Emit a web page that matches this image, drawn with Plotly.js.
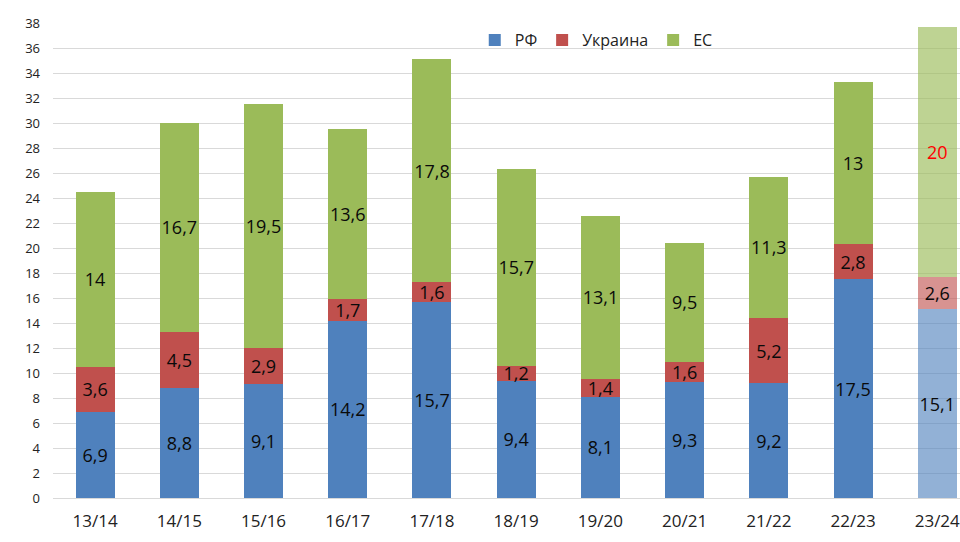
<!DOCTYPE html>
<html>
<head>
<meta charset="utf-8">
<script src="https://cdn.plot.ly/plotly-3.0.1.min.js"></script>
<style>html,body{margin:0;padding:0;background:#fff;}#chart{width:960px;height:542px;}</style>
</head>
<body>
<div id="chart"></div>
<script>
const categories = ["13/14","14/15","15/16","16/17","17/18","18/19","19/20","20/21","21/22","22/23","23/24"];
const rf =      [6.9, 8.8, 9.1, 14.2, 15.7, 9.4, 8.1, 9.3, 9.2, 17.5, 15.1];
const ukraine = [3.6, 4.5, 2.9, 1.7, 1.6, 1.2, 1.4, 1.6, 5.2, 2.8, 2.6];
const eu =      [14, 16.7, 19.5, 13.6, 17.8, 15.7, 13.1, 9.5, 11.3, 13, 20];
const seriesNames = ["РФ", "Украина", "ЕС"];

const fmt = v => String(v).replace('.', ',');
const lastIdx = categories.length - 1;
function colors(solid, light) {
  return categories.map((c, i) => i === lastIdx ? light : solid);
}
const labelFont = "'Liberation Sans Narrow', 'Open Sans', sans-serif";

const common = {
  type: 'bar',
  x: categories,
  textposition: 'inside',
  insidetextanchor: 'middle',
  textangle: 0,
  hoverinfo: 'none'
};

const data = [
  Object.assign({}, common, {
    name: seriesNames[0], y: rf, text: rf.map(fmt),
    marker: {color: colors('#4F81BD', 'rgba(79,129,189,0.62)')},
    textfont: {family: 'Open Sans', size: 18, color: '#0a0a0a'}
  }),
  Object.assign({}, common, {
    name: seriesNames[1], y: ukraine, text: ukraine.map(fmt),
    marker: {color: colors('#C0504D', 'rgba(192,80,77,0.62)')},
    textfont: {family: 'Open Sans', size: 18, color: '#0a0a0a'}
  }),
  Object.assign({}, common, {
    name: seriesNames[2], y: eu, text: eu.map(fmt),
    marker: {color: colors('#9BBB59', 'rgba(155,187,89,0.65)')},
    textfont: {family: 'Open Sans', size: 18, color: categories.map((c, i) => i === lastIdx ? '#FF0000' : '#0a0a0a')}
  })
];

const layout = {
  width: 960, height: 542,
  margin: {l: 53, r: 0, t: 23, b: 44, pad: 0},
  paper_bgcolor: '#ffffff', plot_bgcolor: '#ffffff',
  barmode: 'stack',
  bargap: 0.537,
  uniformtext: {mode: 'show', minsize: 18},
  font: {family: 'Open Sans', color: '#333333'},
  showlegend: true,
  legend: {
    orientation: 'h', x: 0.465, xanchor: 'left', y: 1.0, yanchor: 'top',
    font: {family: 'Open Sans', size: 16, color: '#222222'},
    itemwidth: 30,
    bgcolor: 'rgba(255,255,255,0)', traceorder: 'normal'
  },
  xaxis: {
    type: 'category',
    range: [-0.5, 10.27],
    showgrid: false, zeroline: false, showline: false,
    ticks: '', ticklabelstandoff: 11,
    tickfont: {family: 'Open Sans', size: 17, color: '#222222'}
  },
  yaxis: {
    range: [0, 38], dtick: 2, tick0: 0,
    showgrid: true, gridcolor: '#D9D9D9', gridwidth: 1,
    zeroline: true, zerolinecolor: '#D9D9D9', zerolinewidth: 1,
    showline: false, ticks: '', ticklabelstandoff: 12,
    tickfont: {family: 'Open Sans', size: 13, color: '#222222'}
  }
};

Plotly.newPlot('chart', data, layout, {displayModeBar: false, staticPlot: true});
</script>
</body>
</html>
